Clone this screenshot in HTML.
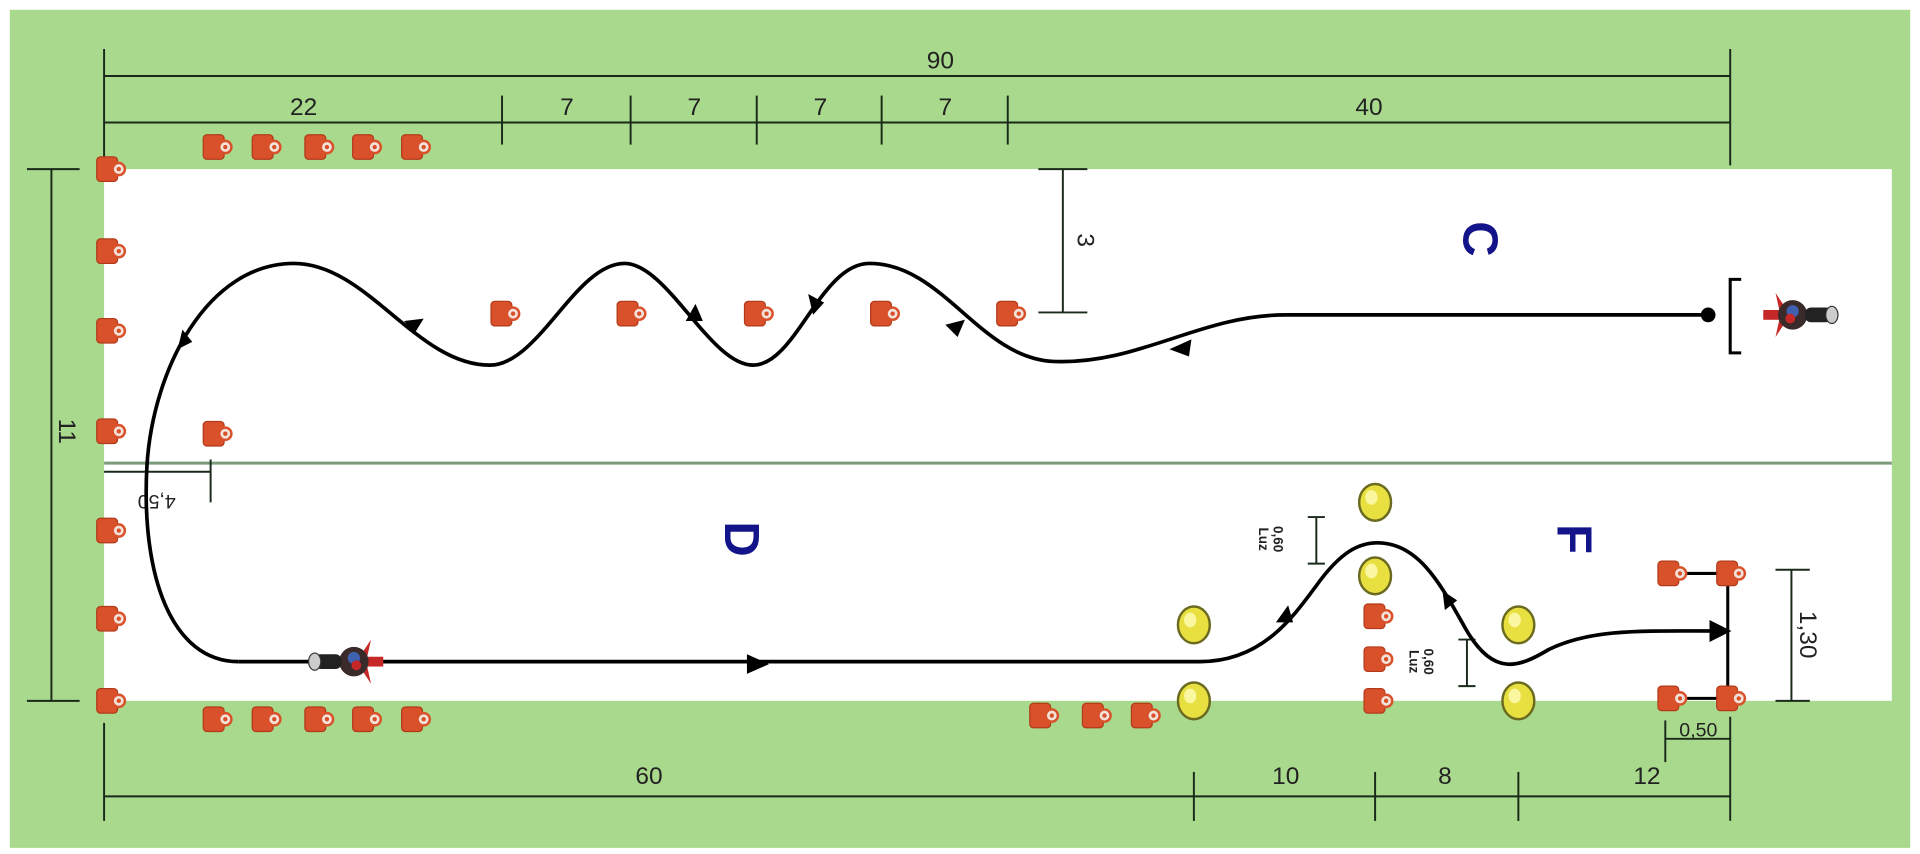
<!DOCTYPE html>
<html><head><meta charset="utf-8"><style>
html,body{margin:0;padding:0;background:#fff;width:1920px;height:854px;overflow:hidden}
svg{display:block}
text{font-family:"Liberation Sans",sans-serif;fill:#222}
.d{stroke:#1a2a1a;stroke-width:1.6;fill:none}
.p{stroke:#000;stroke-width:3;fill:none}
.L{font-family:"Liberation Sans",sans-serif;font-weight:bold;fill:#14148a;font-size:40px}
</style></head><body>
<svg width="1920" height="854" viewBox="0 0 1568 697" preserveAspectRatio="none">
<defs>
<g id="cone"><rect x="-9" y="-10" width="17" height="20" rx="3" fill="#d9512a" stroke="#b23a1a" stroke-width="1"/><circle cx="9" cy="0" r="5" fill="#f3e2da" stroke="#d9512a" stroke-width="2"/><circle cx="9" cy="0" r="1.8" fill="#d9512a"/></g>
<g id="ball"><ellipse cx="0" cy="0" rx="13" ry="15" fill="#e8e040" stroke="#6a6a20" stroke-width="2"/><ellipse cx="-3" cy="-4" rx="5" ry="6" fill="#fbf7a0"/></g>
<g id="moto"><rect x="-22" y="-4" width="22" height="8" fill="#c62828"/><path d="M-12 -18 L-4 -6 L-4 6 L-12 18 L-8 0Z" fill="#c62828"/><ellipse cx="2" cy="0" rx="12" ry="12" fill="#3a2a2a"/><circle cx="2" cy="-3" r="5" fill="#4060b0"/><circle cx="0" cy="3" r="4" fill="#c62828"/><rect x="12" y="-6" width="22" height="12" rx="5" fill="#222"/><ellipse cx="34" cy="0" rx="5" ry="7" fill="#ccc" stroke="#333"/></g>
<marker id="a" viewBox="0 0 10 10" refX="5" refY="5" markerWidth="6" markerHeight="6" orient="auto"><path d="M0 0L10 5L0 10Z" fill="#000"/></marker>
</defs>
<rect x="8" y="8" width="1552" height="684" fill="#a9d98c"/>
<rect x="85" y="138" width="1460" height="434" fill="#fff"/>
<line x1="85" y1="378" x2="1545" y2="378" stroke="#7a9a7a" stroke-width="2.5"/>
<g class="d">
<line x1="85" y1="40" x2="85" y2="135"/><line x1="1413" y1="40" x2="1413" y2="135"/>
<line x1="85" y1="62" x2="1413" y2="62"/><line x1="85" y1="100" x2="1413" y2="100"/>
<line x1="410" y1="78" x2="410" y2="118"/><line x1="515" y1="78" x2="515" y2="118"/><line x1="618" y1="78" x2="618" y2="118"/><line x1="720" y1="78" x2="720" y2="118"/><line x1="823" y1="78" x2="823" y2="118"/>
<line x1="42" y1="138" x2="42" y2="572"/><line x1="22" y1="138" x2="65" y2="138"/><line x1="22" y1="572" x2="65" y2="572"/>
<line x1="868" y1="138" x2="868" y2="255"/><line x1="848" y1="138" x2="888" y2="138"/><line x1="848" y1="255" x2="888" y2="255"/>
<line x1="85" y1="650" x2="1413" y2="650"/><line x1="85" y1="590" x2="85" y2="670"/><line x1="975" y1="630" x2="975" y2="670"/><line x1="1123" y1="630" x2="1123" y2="670"/><line x1="1240" y1="630" x2="1240" y2="670"/><line x1="1413" y1="585" x2="1413" y2="670"/>
<line x1="1463" y1="465" x2="1463" y2="572"/><line x1="1450" y1="465" x2="1478" y2="465"/><line x1="1450" y1="572" x2="1478" y2="572"/>
<line x1="1360" y1="603" x2="1413" y2="603"/><line x1="1360" y1="588" x2="1360" y2="622"/>
<line x1="85" y1="385" x2="172" y2="385"/><line x1="172" y1="375" x2="172" y2="410"/>
<line x1="1075" y1="422" x2="1075" y2="460"/><line x1="1068" y1="422" x2="1082" y2="422"/><line x1="1068" y1="460" x2="1082" y2="460"/>
<line x1="1198" y1="522" x2="1198" y2="560"/><line x1="1191" y1="522" x2="1205" y2="522"/><line x1="1191" y1="560" x2="1205" y2="560"/>
</g>
<g font-size="20" text-anchor="middle">
<text x="768" y="56">90</text><text x="248" y="94">22</text><text x="463" y="94">7</text><text x="567" y="94">7</text><text x="670" y="94">7</text><text x="772" y="94">7</text><text x="1118" y="94">40</text>
<text x="530" y="640">60</text><text x="1050" y="640">10</text><text x="1180" y="640">8</text><text x="1345" y="640">12</text>
<text transform="translate(48,352) rotate(90)">11</text>
<text transform="translate(880,196) rotate(90)">3</text>
<text transform="translate(1470,518) rotate(90)">1,30</text>
<text x="1387" y="601" font-size="16">0,50</text>
<text transform="translate(128,404) rotate(180)" font-size="16">4,50</text>
<text transform="translate(1040,440) rotate(90)" font-size="11" font-weight="bold">0,60</text>
<text transform="translate(1028,440) rotate(90)" font-size="11" font-weight="bold">Luz</text>
<text transform="translate(1163,540) rotate(90)" font-size="11" font-weight="bold">0,60</text>
<text transform="translate(1151,540) rotate(90)" font-size="11" font-weight="bold">Luz</text>
</g>
<text class="L" transform="translate(1195,195) rotate(90)" text-anchor="middle">C</text>
<text class="L" transform="translate(592,440) rotate(90)" text-anchor="middle">D</text>
<text class="L" transform="translate(1272,440) rotate(90)" text-anchor="middle">F</text>
<path class="p" d="M1395 257 L1050 257 C980 257 930 298 860 295 C800 292 770 215 710 215 C670 215 650 298 615 298 C580 298 545 215 510 215 C470 215 440 298 400 298 C340 298 300 215 240 215 C170 215 125 300 120 380 C115 470 140 540 195 540"/>
<path class="p" d="M195 540 L980 540 C1030 540 1055 505 1075 478 C1095 450 1110 443 1125 443 C1160 443 1178 480 1198 515 C1220 552 1240 545 1265 530 C1300 513 1340 515 1405 515" marker-end="url(#a)"/>
<circle cx="1395" cy="257" r="6" fill="#000"/>
<g fill="#000">
<path d="M955 285 l18 -8 l-2 14Z"/><path d="M772 265 l16 -4 l-6 14Z"/><path d="M660 240 l4 17 l9 -10Z"/><path d="M568 248 l-8 14 l14 0Z"/><path d="M330 262 l16 -2 l-8 13Z"/><path d="M145 285 l4 -16 l8 10Z"/>
<path d="M628 542 l-18 -8 l0 16Z"/><path d="M1056 508 l-14 0 l10 -14Z"/><path d="M1190 490 l-12 -8 l2 16Z"/>
</g>
<path d="M1422 228 L1413 228 L1413 288 L1422 288" stroke="#000" stroke-width="2.5" fill="none"/>
<g stroke="#000" stroke-width="2.5"><line x1="1411" y1="468" x2="1411" y2="570"/><line x1="1363" y1="468" x2="1411" y2="468"/><line x1="1363" y1="570" x2="1411" y2="570"/></g>
<use href="#moto" transform="translate(1462,257)"/>
<use href="#moto" transform="translate(285,540) rotate(180) translate(-6,0) scale(-1,1) rotate(180)"/>
<g>
<use href="#cone" x="175" y="120"/><use href="#cone" x="215" y="120"/><use href="#cone" x="258" y="120"/><use href="#cone" x="297" y="120"/><use href="#cone" x="337" y="120"/>
<use href="#cone" x="88" y="138"/><use href="#cone" x="88" y="205"/><use href="#cone" x="88" y="270"/><use href="#cone" x="88" y="352"/><use href="#cone" x="88" y="433"/><use href="#cone" x="88" y="505"/><use href="#cone" x="88" y="572"/>
<use href="#cone" x="175" y="354"/>
<use href="#cone" x="410" y="256"/><use href="#cone" x="513" y="256"/><use href="#cone" x="617" y="256"/><use href="#cone" x="720" y="256"/><use href="#cone" x="823" y="256"/>
<use href="#cone" x="175" y="587"/><use href="#cone" x="215" y="587"/><use href="#cone" x="258" y="587"/><use href="#cone" x="297" y="587"/><use href="#cone" x="337" y="587"/>
<use href="#cone" x="850" y="584"/><use href="#cone" x="893" y="584"/><use href="#cone" x="933" y="584"/>
<use href="#cone" x="1123" y="503"/><use href="#cone" x="1123" y="538"/><use href="#cone" x="1123" y="572"/>
<use href="#cone" x="1363" y="468"/><use href="#cone" x="1411" y="468"/><use href="#cone" x="1363" y="570"/><use href="#cone" x="1411" y="570"/>
</g>
<use href="#ball" x="975" y="510"/><use href="#ball" x="975" y="572"/><use href="#ball" x="1123" y="410"/><use href="#ball" x="1123" y="470"/><use href="#ball" x="1240" y="510"/><use href="#ball" x="1240" y="572"/>
</svg>
</body></html>
